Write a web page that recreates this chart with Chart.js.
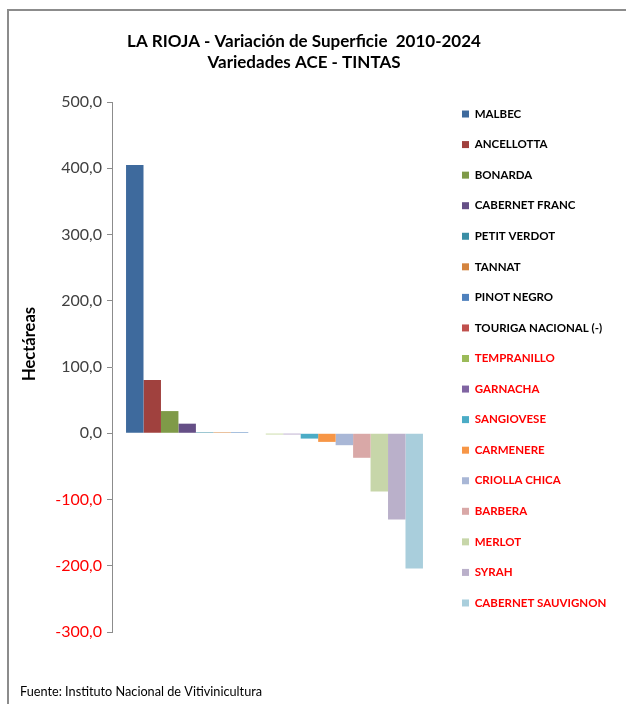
<!DOCTYPE html>
<html>
<head>
<meta charset="utf-8">
<script src="https://cdn.jsdelivr.net/npm/chart.js@4.4.1/dist/chart.umd.min.js"></script>
<style>
  body { margin: 0; background: #fff; }
  #wrap { position: relative; width: 626px; height: 704px; }
  #frame { position: absolute; left: 7px; top: 9px; right: -4px; bottom: -4px;
           border-top: 2px solid #8c8c8c; border-left: 2px solid #8c8c8c; pointer-events: none; }
</style>
</head>
<body>
<div id="wrap">
  <canvas id="myChart" width="626" height="704"></canvas>
  <div id="frame"></div>
</div>
<script>
// chart data
const titleLines = ['LA RIOJA - Variación de Superficie  2010-2024', 'Variedades ACE - TINTAS'];
const yAxisTitle = 'Hectáreas';
const sourceNote = 'Fuente: Instituto Nacional de Vitivinicultura';

const varieties = ['MALBEC', 'ANCELLOTTA', 'BONARDA', 'CABERNET FRANC', 'PETIT VERDOT', 'TANNAT',
    'PINOT NEGRO', 'TOURIGA NACIONAL (-)', 'TEMPRANILLO', 'GARNACHA', 'SANGIOVESE', 'CARMENERE',
    'CRIOLLA CHICA', 'BARBERA', 'MERLOT', 'SYRAH', 'CABERNET SAUVIGNON'];
const variation = [405, 80.5, 33.5, 14.5, 0.6, 0.5, 0.5, 0, -1, -1.5, -8, -13, -18, -37, -88, -130, -204];
const barColors = ['#3E6A9D', '#A0413E', '#7F9A48', '#654F86', '#3A8EA5', '#D4843F',
    '#4F81BD', '#C0504D', '#9BBB59', '#8064A2', '#4BACC6', '#F79646',
    '#A9B7D6', '#D9A8A7', '#C7D6A9', '#BAB0CA', '#A9CEDC'];
const yTicks = [-300, -200, -100, 0, 100, 200, 300, 400, 500];

const FONT = 'Lato, "Open Sans", sans-serif';

// extra text: axis title and source line
const extraText = {
    id: 'extraText',
    afterDraw(chart) {
        const ctx = chart.ctx;
        ctx.save();
        ctx.fillStyle = '#000';
        ctx.textBaseline = 'middle';
        ctx.font = 'bold 16.5px ' + FONT;
        ctx.translate(30, 344);
        ctx.rotate(-Math.PI / 2);
        ctx.textAlign = 'center';
        ctx.fillText(yAxisTitle, 0, 0);
        ctx.restore();

        ctx.save();
        ctx.fillStyle = '#000';
        ctx.textBaseline = 'middle';
        ctx.font = '12.7px ' + FONT;
        ctx.fillText(sourceNote, 20, 692);
        ctx.restore();
    }
};

const datasets = varieties.map((name, i) => ({
    label: name,
    data: [variation[i]],
    backgroundColor: barColors[i],
    borderWidth: 0,
    minBarLength: variation[i] !== 0 ? 1 : 0
}));

new Chart(document.getElementById('myChart'), {
    type: 'bar',
    data: { labels: [''], datasets: datasets },
    options: {
        responsive: false,
        animation: false,
        devicePixelRatio: 1,
        layout: { padding: { top: 13, right: 18, bottom: 0, left: 0 } },
        datasets: { bar: { categoryPercentage: 0.9136, barPercentage: 1 } },
        plugins: {
            title: {
                display: true,
                text: titleLines,
                color: '#000',
                font: { family: FONT, size: 17, weight: 'bold', lineHeight: 1.22 },
                padding: { top: 18, bottom: 29.6 }
            },
            legend: {
                position: 'right',
                align: 'center',
                maxWidth: 165.06,
                labels: {
                    boxWidth: 7,
                    boxHeight: 7,
                    padding: 19.06,
                    font: { family: FONT, size: 11.5, weight: 'bold' },
                    generateLabels(chart) {
                        return chart.data.datasets.map((ds, i) => ({
                            text: ds.label,
                            fillStyle: ds.backgroundColor,
                            strokeStyle: ds.backgroundColor,
                            lineWidth: 0,
                            hidden: false,
                            datasetIndex: i,
                            fontColor: variation[i] < 0 ? '#FF0000' : '#000000'
                        }));
                    }
                }
            },
            tooltip: { enabled: false }
        },
        scales: {
            x: {
                display: true,
                grid: { display: false },
                border: { display: false },
                ticks: { display: false },
                afterFit(s) { s.height = 72; }
            },
            y: {
                min: -300,
                max: 500,
                afterBuildTicks(s) { s.ticks = yTicks.map(v => ({ value: v })); },
                grid: { display: true, drawOnChartArea: false, drawTicks: true, tickLength: 5, color: '#8c8c8c', tickColor: '#8c8c8c' },
                border: { display: true, color: '#8c8c8c', width: 1 },
                ticks: {
                    padding: 5,
                    color: ctx => ctx.tick.value < 0 ? '#FF0000' : '#404040',
                    font: { family: FONT, size: 16 },
                    callback: v => v.toFixed(1).replace('.', ',')
                },
                afterFit(s) { s.width = 112; }
            },
            spacer: {
                type: 'linear',
                position: 'right',
                display: true,
                grid: { display: false },
                border: { display: false },
                ticks: { display: false },
                afterFit(s) { s.width = 5.94; }
            }
        }
    },
    plugins: [extraText]
});
</script>
</body>
</html>
